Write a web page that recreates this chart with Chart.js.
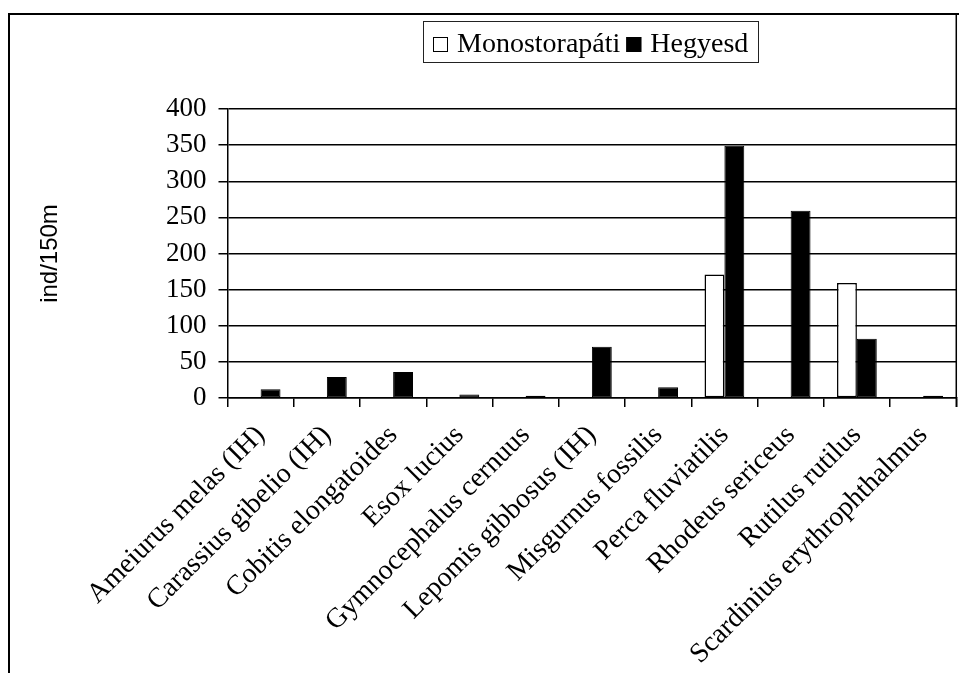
<!DOCTYPE html>
<html>
<head>
<meta charset="utf-8">
<script src="https://cdn.jsdelivr.net/npm/chart.js@4.4.1/dist/chart.umd.min.js"></script>
<style>
  html, body { margin: 0; padding: 0; background: #fff; }
  canvas { display: block; }
</style>
</head>
<body>
<canvas id="chart" width="959" height="673"></canvas>
<script>
// Fish species recorded at the two sampling sites
const categories = [
  'Ameiurus melas (IH)',
  'Carassius gibelio (IH)',
  'Cobitis elongatoides',
  'Esox lucius',
  'Gymnocephalus cernuus',
  'Lepomis gibbosus (IH)',
  'Misgurnus fossilis',
  'Perca fluviatilis',
  'Rhodeus sericeus',
  'Rutilus rutilus',
  'Scardinius erythrophthalmus'
];
const seriesNames = ['Monostorapáti', 'Hegyesd'];
const monostorapati = [0, 0, 0, 0, 0, 0, 0, 171, 0, 159, 0];
const hegyesd = [12, 29, 36, 5, 3, 71, 15, 349, 259, 82, 3];
const yMin = 0;
const yMax = 400;
const yStep = 50;
const yTitle = 'ind/150m';

const SERIF = '"Liberation Serif", "Times New Roman", serif';
const SANS = '"Liberation Sans", Arial, sans-serif';
const TEXT_SIZE = 28;

// Outer frame and boxed legend
const decorPlugin = {
  id: 'decor',
  afterDraw(chart) {
    const ctx = chart.ctx;
    const area = chart.chartArea;
    ctx.save();
    ctx.strokeStyle = '#000';
    ctx.lineWidth = 2;
    ctx.beginPath();
    ctx.moveTo(9, chart.height);
    ctx.lineTo(9, 14);
    ctx.lineTo(chart.width, 14);
    ctx.stroke();

    ctx.lineWidth = 1.5;
    ctx.beginPath();
    ctx.moveTo(area.right, 14);
    ctx.lineTo(area.right, area.bottom + 9);
    ctx.stroke();

    // legend
    ctx.font = TEXT_SIZE + 'px ' + SERIF;
    const sq = 15, padL = 10, gapSq = 9, gapItem = 6, padR = 10;
    const ds = chart.data.datasets;
    let total = padL + padR;
    ds.forEach((d, i) => {
      total += sq + gapSq + ctx.measureText(d.label).width;
      if (i < ds.length - 1) total += gapItem;
    });
    const cx = 591;
    const top = 21, bottom = 62;
    let x = Math.round(cx - total / 2);
    ctx.lineWidth = 1;
    ctx.strokeStyle = '#222';
    ctx.strokeRect(x + 0.5, top + 0.5, Math.round(total), bottom - top);
    x += padL;
    ctx.textBaseline = 'alphabetic';
    ctx.textAlign = 'left';
    ds.forEach((d) => {
      ctx.fillStyle = d.backgroundColor;
      ctx.fillRect(x, 37, sq, sq);
      ctx.strokeStyle = '#000';
      ctx.strokeRect(x + 0.5, 37.5, sq - 1, sq - 1);
      x += sq + gapSq;
      ctx.fillStyle = '#000';
      ctx.fillText(d.label, x, 52);
      x += ctx.measureText(d.label).width + gapItem;
    });
    ctx.restore();
  }
};

new Chart(document.getElementById('chart'), {
  type: 'bar',
  data: {
    labels: categories,
    datasets: [
      {
        label: seriesNames[0],
        data: monostorapati,
        backgroundColor: '#ffffff',
        borderColor: '#000000',
        borderWidth: 1.5,
        borderSkipped: false
      },
      {
        label: seriesNames[1],
        data: hegyesd,
        backgroundColor: '#000000',
        borderColor: '#000000',
        borderWidth: 1,
        borderSkipped: false
      }
    ]
  },
  options: {
    responsive: false,
    animation: false,
    devicePixelRatio: 1,
    categoryPercentage: 0.6,
    barPercentage: 1.0,
    layout: { padding: { top: 109, right: 2, left: 36, bottom: 0 } },
    plugins: {
      legend: { display: false },
      title: { display: false },
      tooltip: { enabled: false }
    },
    scales: {
      x: {
        offset: true,
        grid: {
          display: true,
          offset: true,
          drawOnChartArea: false,
          drawTicks: true,
          tickLength: 9,
          color: '#000',
          lineWidth: 1.5
        },
        border: { display: true, color: '#000', width: 1.5 },
        ticks: {
          autoSkip: false,
          maxRotation: 45,
          minRotation: 45,
          padding: 12,
          color: '#000',
          font: { family: SERIF, size: TEXT_SIZE }
        },
        afterFit(scale) { scale.height = 275; }
      },
      y: {
        min: yMin,
        max: yMax,
        ticks: {
          stepSize: yStep,
          autoSkip: false,
          padding: 12,
          color: '#000',
          font: { family: SERIF, size: 27 }
        },
        grid: {
          color: '#000',
          lineWidth: 1.5,
          tickLength: 9,
          drawTicks: true
        },
        border: { display: true, color: '#000', width: 1.5 },
        title: {
          display: true,
          text: yTitle,
          color: '#000',
          font: { family: SANS, size: 24 },
          padding: { top: 0, bottom: 0 }
        },
        afterFit(scale) { scale.width = 227.5 - 36; }
      }
    }
  },
  plugins: [decorPlugin]
});
</script>
</body>
</html>
